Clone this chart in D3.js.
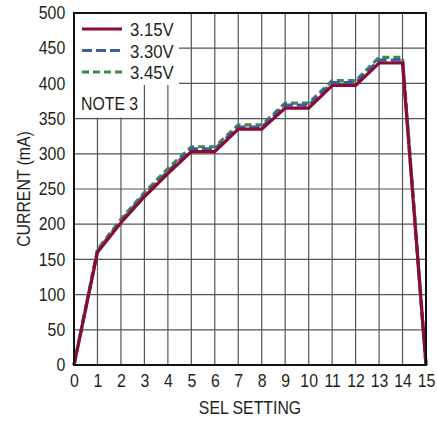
<!DOCTYPE html>
<html>
<head>
<meta charset="utf-8">
<script src="https://cdn.jsdelivr.net/npm/d3@7"></script>
<style>
  body { margin: 0; background: #fff; }
  text { font-family: "Liberation Sans", Arial, sans-serif; fill: #231f20; }
</style>
</head>
<body>
<div id="chart"></div>
<script>
// DATA
const selSetting = d3.range(0, 16);
const current315 = [0, 160, 202, 239, 272, 303, 303, 335, 335, 365, 365, 397, 397, 429, 429, 0];
const current330 = [0, 162, 205, 242, 275, 307, 307, 338, 338, 369, 369, 401, 401, 433, 433, 0];
const current345 = [0, 164, 207, 245, 279, 310, 310, 341, 341, 372, 372, 404, 404, 437, 437, 0];
const yTicks = d3.range(0, 501, 50);
const seriesNames = ["3.15V", "3.30V", "3.45V"];

const width = 437, height = 421,
  margin = { top: 13, bottom: 56, left: 74, right: 11 };
const narrow = "scale(0.88,1)"; // condensed look for the labels

const svg = d3.select("#chart").append("svg")
  .attr("width", width).attr("height", height);

// SCALES
const x = d3.scaleLinear().domain([0, 15]).range([margin.left, width - margin.right]);
const y = d3.scaleLinear().domain([0, 500]).range([height - margin.bottom, margin.top]);

// grid
svg.append("g").selectAll("line.v").data(selSetting.slice(1, 15)).join("line")
  .attr("x1", d => x(d)).attr("x2", d => x(d))
  .attr("y1", y(0)).attr("y2", y(500))
  .attr("stroke", "#555").attr("stroke-width", 1.2);
svg.append("g").selectAll("line.h").data(yTicks.slice(1, 10)).join("line")
  .attr("x1", x(0)).attr("x2", x(15))
  .attr("y1", d => y(d)).attr("y2", d => y(d))
  .attr("stroke", "#555").attr("stroke-width", 1.2);

// legend / note background covers grid
svg.append("rect").attr("x", x(0)).attr("y", y(500))
  .attr("width", 105).attr("height", 72).attr("fill", "#fff");
svg.append("rect").attr("x", x(0)).attr("y", y(500))
  .attr("width", 66).attr("height", y(350) - y(500) - 1).attr("fill", "#fff");

// lines
const series = [
  { name: seriesNames[2], values: current345, color: "#3b8a4e", dash: "7,4" },
  { name: seriesNames[1], values: current330, color: "#3f5ba6", dash: "10,4" },
  { name: seriesNames[0], values: current315, color: "#8c0b31", dash: null },
];
const line = d3.line().x((d, i) => x(selSetting[i])).y(d => y(d));
svg.append("g").selectAll("path").data(series).join("path")
  .attr("d", d => line(d.values))
  .attr("fill", "none")
  .attr("stroke", d => d.color)
  .attr("stroke-width", 3.2)
  .attr("stroke-dasharray", d => d.dash);

// frame
svg.append("rect").attr("x", x(0)).attr("y", y(500))
  .attr("width", x(15) - x(0)).attr("height", y(0) - y(500))
  .attr("fill", "none").attr("stroke", "#111").attr("stroke-width", 2);

// AXES
const xAxis = d3.axisBottom(x).tickValues(selSetting).tickSize(0).tickPadding(9);
const yAxis = d3.axisLeft(y).tickValues(yTicks).tickSize(0).tickPadding(10);
svg.append("g").attr("transform", `translate(0,${y(0)})`).call(xAxis)
  .call(g => g.select(".domain").remove())
  .selectAll("text").style("font-size", "18px").attr("fill", "#231f20")
  .attr("transform", narrow);
svg.append("g").attr("transform", `translate(${x(0)},0)`).call(yAxis)
  .call(g => g.select(".domain").remove())
  .selectAll("text").style("font-size", "18px").attr("fill", "#231f20")
  .attr("transform", narrow);

svg.append("text")
  .attr("transform", `translate(${(x(0) + x(15)) / 2},414) ${narrow}`)
  .attr("text-anchor", "middle").style("font-size", "18px").text("SEL SETTING");
svg.append("text")
  .attr("transform", `translate(30,${(y(0) + y(500)) / 2}) rotate(-90) ${narrow}`)
  .attr("text-anchor", "middle").style("font-size", "18px").text("CURRENT (mA)");

// legend
const legend = svg.append("g").selectAll("g").data(series.slice().reverse()).join("g")
  .attr("transform", (d, i) => `translate(0,${29 + i * 21.5})`);
legend.append("line").attr("x1", 82).attr("x2", 122)
  .attr("stroke", d => d.color).attr("stroke-width", 3.2)
  .attr("stroke-dasharray", d => d.dash);
legend.append("text")
  .attr("transform", `translate(130,7) ${narrow}`)
  .style("font-size", "19px").text(d => d.name);

svg.append("text").attr("transform", `translate(81,110) ${narrow}`)
  .style("font-size", "18px").text("NOTE 3");
</script>
</body>
</html>
